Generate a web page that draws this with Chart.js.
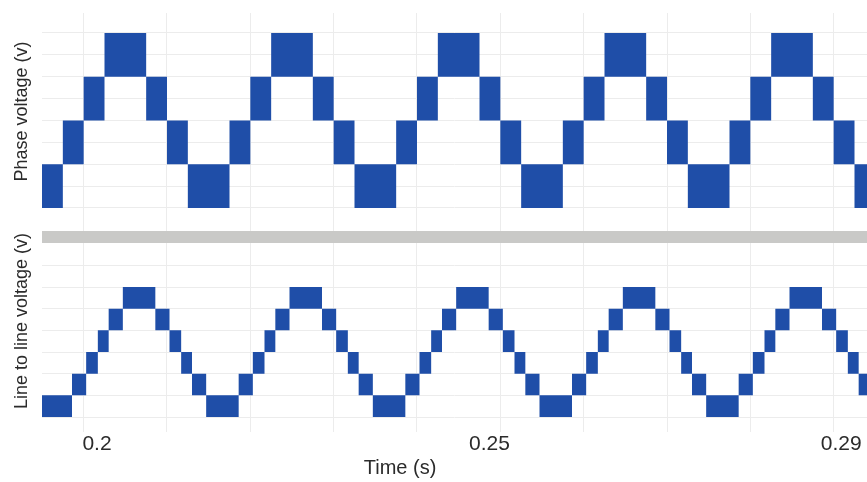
<!DOCTYPE html>
<html>
<head>
<meta charset="utf-8">
<script src="https://cdn.jsdelivr.net/npm/chart.js@4.4.1/dist/chart.umd.min.js"></script>
<style>
  html, body { margin: 0; padding: 0; background: #fff; overflow: hidden; }
  canvas { display: block; }
</style>
</head>
<body>
<canvas id="phase-chart" width="867" height="210"></canvas>
<canvas id="line-chart" width="867" height="272"></canvas>
<script>
// ---- values ----
// phase voltage: switching interval edges (s) and the band each interval sits in
const phaseTimes = [0.195, 0.1975, 0.2, 0.2025, 0.2075, 0.21, 0.2125, 0.2175,
  0.22, 0.2225, 0.2275, 0.23, 0.2325, 0.2375, 0.24, 0.2425, 0.2475, 0.25,
  0.2525, 0.2575, 0.26, 0.2625, 0.2675, 0.27, 0.2725, 0.2775, 0.28, 0.2825,
  0.2875, 0.29, 0.2925, 0.294];
const phaseHigh = [1, 2, 3, 4, 3, 2, 1, 2, 3, 4, 3, 2, 1, 2, 3, 4, 3, 2, 1,
  2, 3, 4, 3, 2, 1, 2, 3, 4, 3, 2, 1];
const phaseLow = [0, 1, 2, 3, 2, 1, 0, 1, 2, 3, 2, 1, 0, 1, 2, 3, 2, 1, 0,
  1, 2, 3, 2, 1, 0, 1, 2, 3, 2, 1, 0];

// line to line voltage
const lineTimes = [0.195, 0.1986, 0.2003, 0.2017, 0.203, 0.2047, 0.2086, 0.2103,
  0.2117, 0.213, 0.2147, 0.2186, 0.2203, 0.2217, 0.223, 0.2247, 0.2286, 0.2303,
  0.2317, 0.233, 0.2347, 0.2386, 0.2403, 0.2417, 0.243, 0.2447, 0.2486, 0.2503,
  0.2517, 0.253, 0.2547, 0.2586, 0.2603, 0.2617, 0.263, 0.2647, 0.2686, 0.2703,
  0.2717, 0.273, 0.2747, 0.2786, 0.2803, 0.2817, 0.283, 0.2847, 0.2886, 0.2903,
  0.2917, 0.293, 0.294];
const lineHigh = [1, 2, 3, 4, 5, 6, 5, 4, 3, 2, 1, 2, 3, 4, 5, 6, 5, 4, 3, 2, 1,
  2, 3, 4, 5, 6, 5, 4, 3, 2, 1, 2, 3, 4, 5, 6, 5, 4, 3, 2, 1, 2, 3, 4, 5, 6, 5,
  4, 3, 2];
const lineLow = [0, 1, 2, 3, 4, 5, 4, 3, 2, 1, 0, 1, 2, 3, 4, 5, 4, 3, 2, 1, 0,
  1, 2, 3, 4, 5, 4, 3, 2, 1, 0, 1, 2, 3, 4, 5, 4, 3, 2, 1, 0, 1, 2, 3, 4, 5, 4,
  3, 2, 1];

// axes
const timeGrid = [0.20, 0.21, 0.22, 0.23, 0.24, 0.25, 0.26, 0.27, 0.28, 0.29];
const timeTickValues = [0.2016, 0.2487, 0.2909];
const timeTickLabels = ['0.2', '0.25', '0.29'];
const phaseGrid = [0, 0.5, 1, 1.5, 2, 2.5, 3, 3.5, 4];
const lineGrid = [0, 1, 2, 3, 4, 5, 6, 7];
const separatorLevel = 8.3;

const FONT = '"Liberation Sans", Arial, Helvetica, sans-serif';
const BLUE = '#1f4ea8';
const GRID = '#ececec';
const TEXT = '#2b2b2b';

function stepPoints(times, levels) {
  const pts = levels.map((v, i) => ({ x: times[i], y: v }));
  pts.push({ x: times[times.length - 1], y: levels[levels.length - 1] });
  return pts;
}

function bandDatasets(times, low, high) {
  const base = { stepped: true, borderWidth: 0, pointRadius: 0, borderColor: BLUE };
  return [
    Object.assign({}, base, { data: stepPoints(times, low), fill: false }),
    Object.assign({}, base, { data: stepPoints(times, high), fill: '-1', backgroundColor: BLUE })
  ];
}

function timeGridAxis() {
  return {
    type: 'linear',
    min: 0.195,
    max: 0.294,
    z: -1,
    afterBuildTicks: (s) => { s.ticks = timeGrid.map(v => ({ value: v })); },
    afterFit: (s) => { s.height = 0; },
    ticks: { display: false },
    grid: { color: GRID, drawTicks: false },
    border: { display: false }
  };
}

function yTitle(text) {
  return { display: true, text: text, color: TEXT, font: { family: FONT, size: 18 }, padding: { top: 11, bottom: 0 } };
}

// Time (s) label sits left of the plot centre
const timeTitle = {
  id: 'timeTitle',
  afterDraw(chart) {
    const { ctx, chartArea } = chart;
    ctx.save();
    ctx.font = '20px ' + FONT;
    ctx.fillStyle = TEXT;
    ctx.textAlign = 'center';
    ctx.textBaseline = 'middle';
    ctx.fillText('Time (s)', chartArea.left + (chartArea.right - chartArea.left) * 0.434, chart.height - 14);
    ctx.restore();
  }
};

const common = {
  responsive: false,
  animation: false,
  devicePixelRatio: 1,
  plugins: { legend: { display: false }, tooltip: { enabled: false } }
};

new Chart(document.getElementById('phase-chart'), {
  type: 'line',
  data: { datasets: bandDatasets(phaseTimes, phaseLow, phaseHigh) },
  options: Object.assign({}, common, {
    layout: { padding: { top: 13, left: 0, right: 0, bottom: 0 } },
    scales: {
      x: timeGridAxis(),
      y: {
        min: -0.046,
        max: 4.457,
        afterBuildTicks: (s) => { s.ticks = phaseGrid.map(v => ({ value: v })); },
        afterFit: (s) => { s.width = 42; },
        ticks: { display: false },
        grid: { color: GRID, drawTicks: false },
        border: { display: false },
        title: yTitle('Phase voltage (v)')
      }
    }
  })
});

new Chart(document.getElementById('line-chart'), {
  type: 'line',
  data: { datasets: bandDatasets(lineTimes, lineLow, lineHigh) },
  options: Object.assign({}, common, {
    layout: { padding: 0 },
    scales: {
      x: timeGridAxis(),
      xLabels: {
        type: 'linear',
        position: 'bottom',
        min: 0.195,
        max: 0.294,
        afterBuildTicks: (s) => { s.ticks = timeTickValues.map(v => ({ value: v })); },
        afterFit: (s) => { s.height = 50; },
        ticks: {
          autoSkip: false,
          maxRotation: 0,
          padding: 0,
          color: TEXT,
          font: { family: FONT, size: 21 },
          callback: (v, i) => timeTickLabels[i]
        },
        grid: { display: false, drawTicks: false },
        border: { display: false }
      },
      y: {
        min: -0.692,
        max: 9.554,
        afterBuildTicks: (s) => { s.ticks = lineGrid.concat([separatorLevel]).map(v => ({ value: v })); },
        afterFit: (s) => { s.width = 42; },
        ticks: { display: false },
        grid: {
          drawTicks: false,
          color: (c) => (c.tick && c.tick.value === separatorLevel ? '#c9c9c7' : GRID),
          lineWidth: (c) => (c.tick && c.tick.value === separatorLevel ? 12 : 1)
        },
        border: { display: false },
        title: yTitle('Line to line voltage (v)')
      }
    }
  }),
  plugins: [timeTitle]
});
</script>
</body>
</html>
